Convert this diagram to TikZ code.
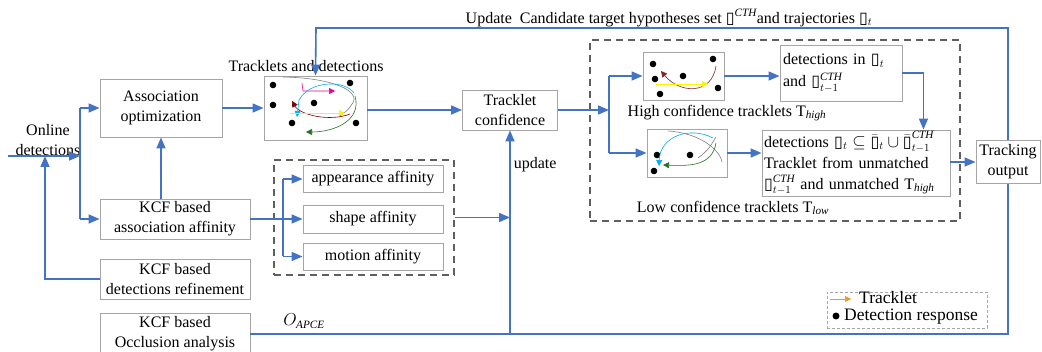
\documentclass[tikz,border=0pt]{standalone}
\usepackage{fontspec}
\setmainfont{Liberation Serif}
\newfontfamily\symfont{DejaVu Sans}
\usetikzlibrary{arrows.meta,positioning}
\definecolor{flow}{RGB}{68,114,196}
\definecolor{boxline}{RGB}{165,165,165}
\definecolor{dashline}{RGB}{95,95,95}
\definecolor{trkred}{RGB}{128,0,0}
\definecolor{trkgreen}{RGB}{0,110,0}
\definecolor{trkorange}{RGB}{240,150,40}
\newcommand{\ph}{\mbox{\symfont\symbol{"25AF}}}
\tikzset{
  blk/.style={draw=boxline, line width=0.9pt, align=center, inner sep=2pt,
    font=\fontsize{16}{20}\selectfont},
  imgbox/.style={draw=boxline, line width=0.9pt},
  grp/.style={draw=dashline, line width=1.2pt, dash pattern=on 7pt off 5pt},
  lbl/.style={font=\fontsize{16}{20}\selectfont, inner sep=1pt},
  line/.style={draw=flow, line width=1.6pt},
  flw/.style={line, -{Triangle[length=11pt,width=9pt]}},
  trk/.style={line width=0.6pt, -{Triangle[length=6pt,width=6pt]}},
  det/.style={fill=black},
}
\begin{document}
\begin{tikzpicture}[x=1pt,y=-1pt]
\useasboundingbox[fill=white] (0,0) rectangle (1042,352);

% groups
\node[grp, minimum width=180, minimum height=115] (affgrp) at (364,217.5) {};
\node[grp, minimum width=370, minimum height=181] (confgrp) at (775,130.5) {};

% blocks
\node[blk, minimum width=122, minimum height=58] (assoc) at (161,108) {Association\\optimization};
\node[imgbox, minimum width=103, minimum height=64] (trk) at (315.5,108) {};
\node[lbl] (trklbl) at (306,66) {Tracklets and detections};
\node[blk, minimum width=95, minimum height=40] (conf) at (510,110) {Tracklet\\confidence};
\node[blk, minimum width=150, minimum height=40] (kcfa) at (175,219) {KCF based\\association affinity};
\node[blk, minimum width=150, minimum height=40] (refine) at (175,279) {KCF based\\detections refinement};
\node[blk, minimum width=150, minimum height=42] (occl) at (175,334) {KCF based\\Occlusion analysis};
\node[blk, minimum width=140, minimum height=27] (app) at (373,179) {appearance affinity};
\node[blk, minimum width=140, minimum height=28] (shape) at (373,219) {shape affinity};
\node[blk, minimum width=140, minimum height=27] (mot) at (373,256.5) {motion affinity};
\node[imgbox, minimum width=81, minimum height=48] (himg) at (683.5,76) {};
\node[imgbox, minimum width=80, minimum height=48] (limg) at (687,153) {};
\node[blk, align=left, minimum width=122, minimum height=56, text width=116,
  font=\fontsize{16}{22}\selectfont] (hdet) at (841,73)
  {detections in \ph$_t$\\and \ph$^{\mathit{CTH}}_{t-1}$};
\node[blk, align=left, minimum width=188, minimum height=66, text width=184, inner sep=1pt,
  font=\fontsize{16}{21}\selectfont] (ldet) at (856,163)
  {detections \ph$_t\subseteq\bar{\ph}_t\cup\bar{\ph}^{\mathit{CTH}}_{t-1}$\\Tracklet from unmatched\\
   \ph$^{\mathit{CTH}}_{t-1}$ and unmatched T$_{\mathit{high}}$};
\node[blk, minimum width=64, minimum height=43] (track) at (1008,162) {Tracking\\output};
\node[lbl] (hlbl) at (727,113) {High confidence tracklets T$_{\mathit{high}}$};
\node[lbl] (llbl) at (733,208) {Low confidence tracklets T$_{\mathit{low}}$};
\node[lbl, align=center] (online) at (48,140) {Online\\detections};
\node[lbl] (updtxt) at (669,18) {Update\ \ Candidate target hypotheses set \ph$^{\mathit{CTH}}$and trajectories \ph$_t$};
\node[lbl] (apce) at (304,321) {$O_{\mathit{APCE}}$};

% legend
\node[draw=boxline, densely dashed, line width=0.6pt, minimum width=160, minimum height=36] (lgd) at (907,310) {};
\draw[trkorange, trk] (830,299) -- (851,299);
\node[lbl, font=\fontsize{17.5}{19}\selectfont, anchor=west] (lgdtrk) at (858,298) {Tracklet};
\fill[det] (836,316) circle (3.5);
\node[lbl, font=\fontsize{17.5}{19}\selectfont, anchor=west] (lgddet) at (843,317) {Detection response};

% tracklets and detections
\foreach \p in {(273,85),(273,105),(314,103),(350,83),(292,123),(356,123)}
  \fill[det] \p circle (3.3);
\draw[gray, line width=0.6pt] (283,77) .. controls (335,78) and (362,92) .. (352,104) .. controls (348,110) .. (340,116);
\draw[trkred, trk] (350,114) .. controls (330,122) and (300,115) .. (292,101);
\draw[magenta, trk] (302,83) -- (303,91) -- (335,91);
\draw[cyan, trk] (354,93) .. controls (345,80) and (310,80) .. (299,100) -- (297,117);
\draw[yellow, trk] (290,113) -- (345,113);
\draw[trkgreen!70!gray, trk] (355,96) .. controls (362,120) and (335,132) .. (306,132);
\foreach \p in {(653,64),(655,79),(660,94),(683,76),(713,59),(718,88)}
  \fill[det] \p circle (3.3);
\draw[trkred!70!gray, trk] (716,66) .. controls (712,95) and (680,94) .. (661,71);
\draw[yellow, trk] (656,84) -- (708,84);
\foreach \p in {(657,155),(690,155),(654,171)}
  \fill[det] \p circle (3.3);
\draw[gray, line width=0.6pt] (668,131) .. controls (700,133) and (720,150) .. (722,162);
\draw[gray, line width=0.6pt] (716,137) .. controls (708,150) .. (698,158);
\draw[cyan, trk] (713,138) .. controls (690,126) and (660,136) .. (659,166);
\draw[trkgreen!70!gray, trk] (716,143) .. controls (712,166) and (690,166) .. (663,165);

% connectors
\coordinate (in) at (8,156);
\coordinate (fork) at (80,156);
\coordinate (fb) at (45,156);
\draw[flw] (in) -- (fork);
\draw[line] (fork |- assoc) -- (fork |- kcfa);
\draw[flw] (fork |- assoc) -- (assoc);
\draw[flw] (fork |- kcfa) -- (kcfa);
\draw[flw] (refine) -| (fb);
\draw[flw] (assoc.south |- kcfa.north) -- (assoc.south);
\draw[flw] (assoc) -- (trk);
\draw[flw] (trk.east |- conf) -- (conf);
\coordinate (afork) at (283,219);
\draw[line] (afork |- app) -- (afork |- mot);
\draw[flw] (kcfa) -- (shape);
\draw[flw] (afork |- app) -- (app);
\draw[flw] (afork |- mot) -- (mot);
\draw[flw] (affgrp.east) -- (affgrp.east -| conf.south);
\draw[line] (occl.east) -| (track.south);
\draw[flw] (conf.south |- occl.east) -- (conf.south)
  node[lbl, pos=0.83, right=2pt] (updlbl) {update};
\coordinate (upd) at (316,28);
\draw[flw] (track.north) |- (upd) -- (trk.north);
\coordinate (cfork) at (609,110);
\draw[flw] (conf) -- (cfork);
\draw[line] (cfork |- himg) -- (cfork |- limg);
\draw[flw] (cfork |- himg) -- (himg);
\draw[flw] (cfork |- limg) -- (limg);
\draw[flw] (himg) -- (himg -| hdet.west);
\draw[flw] (limg) -- (limg -| ldet.west);
\draw[flw] (hdet.east) -| ([xshift=-27pt]ldet.north east);
\draw[flw] (ldet.east |- track) -- (track);
\end{tikzpicture}
\end{document}
